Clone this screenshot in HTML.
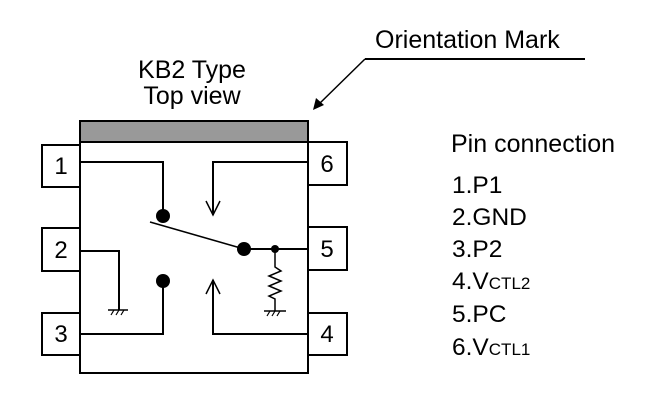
<!DOCTYPE html>
<html><head><style>body{margin:0;background:#fff}svg{display:block}</style></head><body>
<svg width="650" height="400" viewBox="0 0 650 400" xmlns="http://www.w3.org/2000/svg" font-family="Liberation Sans, Arial, sans-serif">
<rect width="650" height="400" fill="#fff"/>
<text x="375" y="48" font-size="25">Orientation Mark</text>
<line x1="365" y1="59" x2="585" y2="59" stroke="#000" stroke-width="2"/>
<line x1="365" y1="59" x2="318" y2="105" stroke="#000" stroke-width="1.5"/>
<polygon points="313,110 316,98 324,105" fill="#000"/>
<text x="192" y="78" font-size="25" text-anchor="middle">KB2 Type</text>
<text x="192" y="104" font-size="25" text-anchor="middle">Top view</text>
<g stroke="#000" stroke-width="2" fill="#fff">
<rect x="42" y="145" width="38" height="42"/>
<rect x="42" y="228" width="38" height="43"/>
<rect x="42" y="313" width="38" height="42"/>
<rect x="308" y="142" width="39" height="43"/>
<rect x="308" y="227" width="39" height="43"/>
<rect x="308" y="313" width="39" height="42"/>
<rect x="80" y="142" width="228" height="231"/>
<rect x="80" y="121" width="228" height="21" fill="#999"/>
</g>
<g font-size="24" text-anchor="middle">
<text x="61" y="174">1</text><text x="61" y="258">2</text><text x="61" y="342">3</text>
<text x="327" y="172">6</text><text x="327" y="257">5</text><text x="327" y="342">4</text>
</g>
<g stroke="#000" stroke-width="2" fill="none">
<polyline points="80,162 163,162 163,217"/>
<polyline points="308,162 213,162 213,215"/>
<polyline points="206,201 213,215 220,201" stroke-width="1.5"/>
<polyline points="308,334 213,334 213,280"/>
<polyline points="206,294 213,280 220,294" stroke-width="1.5"/>
<polyline points="80,334 163,334 163,281"/>
<polyline points="80,251 119,251 119,310"/>
<line x1="150" y1="222" x2="244" y2="249" stroke-width="1.5"/>
<line x1="244" y1="249" x2="308" y2="249"/>
<polyline points="275,249 275,267 281,271 269,276 281,281 269,286 281,291 269,296 275,299 275,311" stroke-width="1.5"/>
<line x1="264" y1="311" x2="286" y2="311" stroke-width="1.5"/>
<line x1="108" y1="310" x2="128" y2="310" stroke-width="1.5"/>
</g>
<g stroke="#000" stroke-width="1.2">
<line x1="111" y1="315" x2="114" y2="310"/><line x1="116" y1="315" x2="119" y2="310"/><line x1="121" y1="315" x2="124" y2="310"/>
<line x1="267" y1="316" x2="270" y2="311"/><line x1="272" y1="316" x2="275" y2="311"/><line x1="277" y1="316" x2="280" y2="311"/>
</g>
<circle cx="163" cy="216" r="7"/>
<circle cx="163" cy="281" r="7"/>
<circle cx="244" cy="249" r="7"/>
<circle cx="275" cy="249" r="4"/>
<g font-size="24.5">
<text x="451" y="152" font-size="25">Pin connection</text>
<text x="452" y="193">1.P1</text>
<text x="452" y="225">2.GND</text>
<text x="452" y="257">3.P2</text>
<text x="452" y="289">4.V<tspan font-size="17">CTL2</tspan></text>
<text x="452" y="322">5.PC</text>
<text x="452" y="355">6.V<tspan font-size="17">CTL1</tspan></text>
</g>
</svg>
</body></html>
